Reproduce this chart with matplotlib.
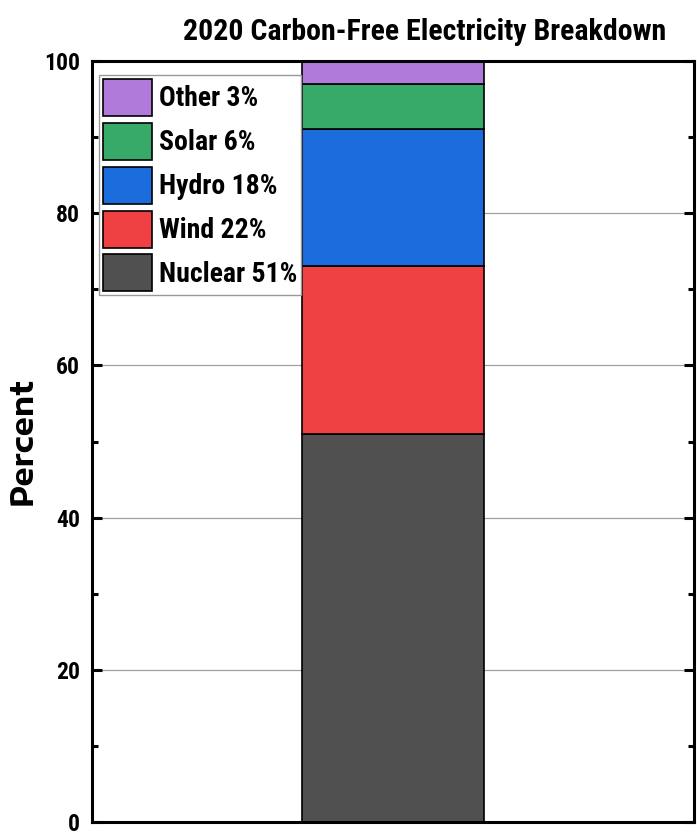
import matplotlib
matplotlib.use("Agg")
import matplotlib.pyplot as plt
import matplotlib.font_manager as fm
from matplotlib.patches import Patch
from matplotlib.ticker import MultipleLocator

sources = ["Nuclear", "Wind", "Hydro", "Solar", "Other"]
shares = [51, 22, 18, 6, 3]
colors = ["#505050", "#EF4144", "#1A6BDB", "#37AA6A", "#B07ADB"]
title = "2020 Carbon-Free Electricity Breakdown"
y_ticks = [0, 20, 40, 60, 80, 100]


def pick_bold(candidates, fallback="DejaVu Sans"):
    """First family in the list that ships a bold face."""
    bold = {f.name for f in fm.fontManager.ttflist
            if isinstance(f.weight, int) and f.weight >= 700
            or f.weight == "bold"}
    for name in candidates:
        if name in bold:
            return name
    return fallback


narrow_face = pick_bold(["Roboto Condensed", "PT Sans Narrow",
                         "Fira Sans Extra Condensed", "Pragati Narrow",
                         "Archivo Narrow", "Encode Sans Condensed"])
wide_face = pick_bold(["Encode Sans Expanded", "Zalando Sans Expanded",
                       "DejaVu Sans"])
narrow = [narrow_face, "DejaVu Sans"]
wide = [wide_face, "DejaVu Sans"]

W, H = 697, 833
fig = plt.figure(figsize=(W / 100, H / 100), dpi=100)
ax = fig.add_axes([92 / W, 1 - 822 / H, 602 / W, 761 / H])

bottom = 0
for name, val, col in zip(sources, shares, colors):
    ax.bar(0, val, width=1.0, bottom=bottom, color=col, edgecolor="black",
           linewidth=1.2, zorder=3)
    bottom += val

ax.set_xlim(-1.66, 1.66)
ax.set_ylim(0, 100)
ax.set_xticks([])
ax.yaxis.set_minor_locator(MultipleLocator(10))
ax.set_yticks(y_ticks)
ax.set_yticklabels([str(t) for t in y_ticks], fontfamily=narrow,
                   fontweight="bold", fontsize=17)
ax.tick_params(axis="y", which="both", direction="in", right=True,
               width=2.2, pad=8.5)
ax.tick_params(axis="y", which="major", length=7)
ax.tick_params(axis="y", which="minor", length=4)
ax.grid(axis="y", which="major", color="#a0a0a0", linewidth=0.9, zorder=0)
for s in ax.spines.values():
    s.set_linewidth(2.2)
    s.set_zorder(5)

ax.set_ylabel("Percent", fontfamily=wide, fontweight="bold", fontsize=22)
ax.yaxis.set_label_coords(-(92 - 39) / 602, 0.5)

handles = [Patch(facecolor=c, edgecolor="black", linewidth=1.2)
           for c in colors[::-1]]
labels = [f"{n} {v}%" for n, v in zip(sources[::-1], shares[::-1])]
leg = ax.legend(handles, labels, loc="upper left",
                bbox_to_anchor=(7 / 602, 1 - 14 / 761),
                prop={"family": narrow, "weight": "bold", "size": 20},
                fancybox=False, edgecolor="#999999", framealpha=1,
                handlelength=1.76, handleheight=1.67, handletextpad=0.25,
                labelspacing=0.25, borderpad=0.14, borderaxespad=0)
leg.get_frame().set_linewidth(1.0)
leg.set_zorder(6)

fig.text(425 / W, 1 - 40 / H, title, ha="center", va="baseline",
         fontfamily=narrow, fontweight="bold", fontsize=21.5)

fig.savefig("out.png", dpi=100)
